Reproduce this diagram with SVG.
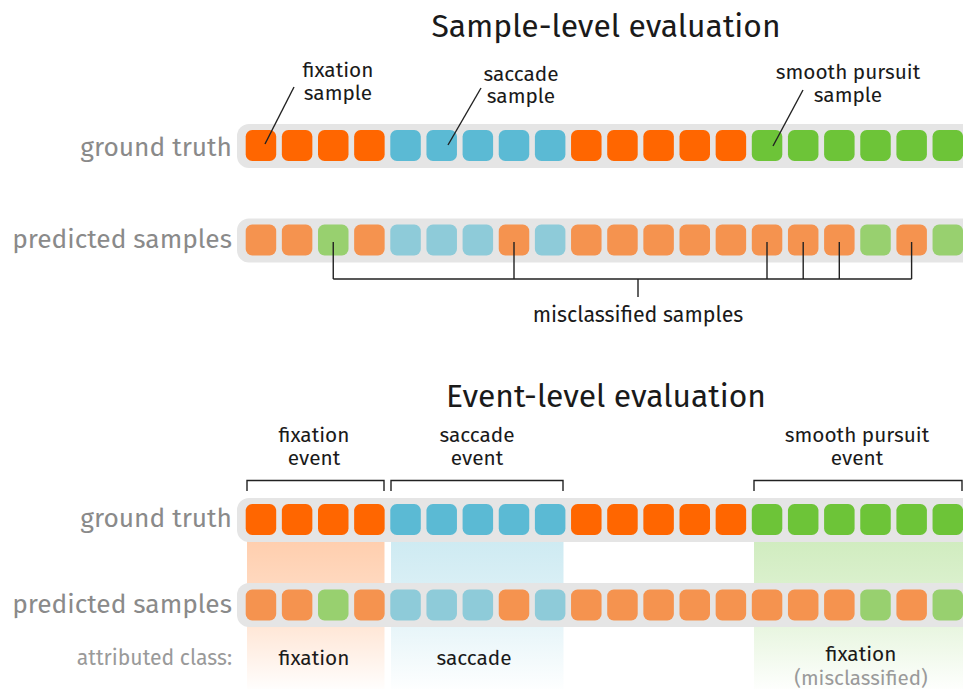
<svg xmlns="http://www.w3.org/2000/svg" width="963" height="689" viewBox="0 0 963 689">
<style>
  text { font-family: "Fira Sans", "Open Sans", "Noto Sans", sans-serif; }
  .title { font-size: 31.8px; fill: #1a1a1a; text-anchor: middle; }
  .lbl { font-size: 20.8px; fill: #1a1a1a; text-anchor: middle; }
  .row { font-size: 26.3px; fill: #8a8a8a; text-anchor: end; }
  .attr { font-size: 21.2px; fill: #9a9a9a; text-anchor: end; }
  .mis { font-size: 20.6px; fill: #9a9a9a; text-anchor: middle; }
  .bar { fill: #e5e5e5; }
  .go { fill: #ff6600; } .gb { fill: #5bbad4; } .gg { fill: #6dc438; }
  .po { fill: #f5934f; } .pb { fill: #8ecbd9; } .pg { fill: #98d06f; }
  .ln { stroke: #222; stroke-width: 1.4; fill: none; }
</style>
<defs>
  <rect id="s" width="30.5" height="31" rx="6.5"/>
  <linearGradient id="gO" gradientUnits="userSpaceOnUse" x1="0" y1="540" x2="0" y2="689">
    <stop offset="0" stop-color="#ff6600" stop-opacity="0.32"/>
    <stop offset="0.35" stop-color="#ff6600" stop-opacity="0.24"/>
    <stop offset="1" stop-color="#ff6600" stop-opacity="0.01"/>
  </linearGradient>
  <linearGradient id="gB" gradientUnits="userSpaceOnUse" x1="0" y1="540" x2="0" y2="689">
    <stop offset="0" stop-color="#5bbad4" stop-opacity="0.3"/>
    <stop offset="0.35" stop-color="#5bbad4" stop-opacity="0.22"/>
    <stop offset="1" stop-color="#5bbad4" stop-opacity="0.01"/>
  </linearGradient>
  <linearGradient id="gG" gradientUnits="userSpaceOnUse" x1="0" y1="540" x2="0" y2="689">
    <stop offset="0" stop-color="#6dc438" stop-opacity="0.32"/>
    <stop offset="0.35" stop-color="#6dc438" stop-opacity="0.24"/>
    <stop offset="1" stop-color="#6dc438" stop-opacity="0.01"/>
  </linearGradient>
</defs>

<rect width="963" height="689" fill="#ffffff"/>

<!-- Sample-level section -->
<g id="title-sample"><text class="title" x="606" y="37">Sample-level evaluation</text></g>

<g id="label-fixation-sample">
  <text class="lbl" x="338" y="77">fixation</text>
  <text class="lbl" x="338" y="99.5">sample</text>
</g>
<g id="label-saccade-sample">
  <text class="lbl" x="521" y="80.5">saccade</text>
  <text class="lbl" x="521" y="103">sample</text>
</g>
<g id="label-pursuit-sample">
  <text class="lbl" x="848" y="79">smooth pursuit</text>
  <text class="lbl" x="848" y="102">sample</text>
</g>

<g id="row-gt-1">
  <text class="row" x="232" y="156">ground truth</text>
  <rect class="bar" x="237" y="124" width="740" height="44" rx="12"/>
  <use href="#s" class="go" x="245.7" y="130"/>
  <use href="#s" class="go" x="281.85" y="130"/>
  <use href="#s" class="go" x="318" y="130"/>
  <use href="#s" class="go" x="354.15" y="130"/>
  <use href="#s" class="gb" x="390.3" y="130"/>
  <use href="#s" class="gb" x="426.45" y="130"/>
  <use href="#s" class="gb" x="462.6" y="130"/>
  <use href="#s" class="gb" x="498.75" y="130"/>
  <use href="#s" class="gb" x="534.9" y="130"/>
  <use href="#s" class="go" x="571.05" y="130"/>
  <use href="#s" class="go" x="607.2" y="130"/>
  <use href="#s" class="go" x="643.35" y="130"/>
  <use href="#s" class="go" x="679.5" y="130"/>
  <use href="#s" class="go" x="715.65" y="130"/>
  <use href="#s" class="gg" x="751.8" y="130"/>
  <use href="#s" class="gg" x="787.95" y="130"/>
  <use href="#s" class="gg" x="824.1" y="130"/>
  <use href="#s" class="gg" x="860.25" y="130"/>
  <use href="#s" class="gg" x="896.4" y="130"/>
  <use href="#s" class="gg" x="932.55" y="130"/>
</g>

<g id="row-pred-1">
  <text class="row" x="232" y="248">predicted samples</text>
  <rect class="bar" x="237" y="218.5" width="740" height="44" rx="12"/>
  <use href="#s" class="po" x="245.7" y="224.5"/>
  <use href="#s" class="po" x="281.85" y="224.5"/>
  <use href="#s" class="pg" x="318" y="224.5"/>
  <use href="#s" class="po" x="354.15" y="224.5"/>
  <use href="#s" class="pb" x="390.3" y="224.5"/>
  <use href="#s" class="pb" x="426.45" y="224.5"/>
  <use href="#s" class="pb" x="462.6" y="224.5"/>
  <use href="#s" class="po" x="498.75" y="224.5"/>
  <use href="#s" class="pb" x="534.9" y="224.5"/>
  <use href="#s" class="po" x="571.05" y="224.5"/>
  <use href="#s" class="po" x="607.2" y="224.5"/>
  <use href="#s" class="po" x="643.35" y="224.5"/>
  <use href="#s" class="po" x="679.5" y="224.5"/>
  <use href="#s" class="po" x="715.65" y="224.5"/>
  <use href="#s" class="po" x="751.8" y="224.5"/>
  <use href="#s" class="po" x="787.95" y="224.5"/>
  <use href="#s" class="po" x="824.1" y="224.5"/>
  <use href="#s" class="pg" x="860.25" y="224.5"/>
  <use href="#s" class="po" x="896.4" y="224.5"/>
  <use href="#s" class="pg" x="932.55" y="224.5"/>
</g>

<g id="label-misclassified"><text class="lbl" x="638" y="322" style="font-size:21.4px">misclassified samples</text></g>

<!-- Event-level section -->
<g id="title-event"><text class="title" x="606" y="407">Event-level evaluation</text></g>

<g id="label-fixation-event">
  <text class="lbl" x="314" y="442">fixation</text>
  <text class="lbl" x="314" y="465">event</text>
</g>
<g id="label-saccade-event">
  <text class="lbl" x="477" y="442">saccade</text>
  <text class="lbl" x="477" y="465">event</text>
</g>
<g id="label-pursuit-event">
  <text class="lbl" x="857" y="442">smooth pursuit</text>
  <text class="lbl" x="857" y="465">event</text>
</g>

<g id="bands">
  <rect x="247" y="530" width="137.5" height="159" fill="url(#gO)"/>
  <rect x="391" y="530" width="172.5" height="159" fill="url(#gB)"/>
  <rect x="754" y="530" width="209" height="159" fill="url(#gG)"/>
</g>

<g id="row-gt-2">
  <text class="row" x="232" y="527">ground truth</text>
  <rect class="bar" x="237" y="498" width="740" height="44" rx="12"/>
  <use href="#s" class="go" x="245.7" y="504"/>
  <use href="#s" class="go" x="281.85" y="504"/>
  <use href="#s" class="go" x="318" y="504"/>
  <use href="#s" class="go" x="354.15" y="504"/>
  <use href="#s" class="gb" x="390.3" y="504"/>
  <use href="#s" class="gb" x="426.45" y="504"/>
  <use href="#s" class="gb" x="462.6" y="504"/>
  <use href="#s" class="gb" x="498.75" y="504"/>
  <use href="#s" class="gb" x="534.9" y="504"/>
  <use href="#s" class="go" x="571.05" y="504"/>
  <use href="#s" class="go" x="607.2" y="504"/>
  <use href="#s" class="go" x="643.35" y="504"/>
  <use href="#s" class="go" x="679.5" y="504"/>
  <use href="#s" class="go" x="715.65" y="504"/>
  <use href="#s" class="gg" x="751.8" y="504"/>
  <use href="#s" class="gg" x="787.95" y="504"/>
  <use href="#s" class="gg" x="824.1" y="504"/>
  <use href="#s" class="gg" x="860.25" y="504"/>
  <use href="#s" class="gg" x="896.4" y="504"/>
  <use href="#s" class="gg" x="932.55" y="504"/>
</g>

<g id="row-pred-2">
  <text class="row" x="232" y="613">predicted samples</text>
  <rect class="bar" x="237" y="583" width="740" height="44" rx="12"/>
  <use href="#s" class="po" x="245.7" y="589.5"/>
  <use href="#s" class="po" x="281.85" y="589.5"/>
  <use href="#s" class="pg" x="318" y="589.5"/>
  <use href="#s" class="po" x="354.15" y="589.5"/>
  <use href="#s" class="pb" x="390.3" y="589.5"/>
  <use href="#s" class="pb" x="426.45" y="589.5"/>
  <use href="#s" class="pb" x="462.6" y="589.5"/>
  <use href="#s" class="po" x="498.75" y="589.5"/>
  <use href="#s" class="pb" x="534.9" y="589.5"/>
  <use href="#s" class="po" x="571.05" y="589.5"/>
  <use href="#s" class="po" x="607.2" y="589.5"/>
  <use href="#s" class="po" x="643.35" y="589.5"/>
  <use href="#s" class="po" x="679.5" y="589.5"/>
  <use href="#s" class="po" x="715.65" y="589.5"/>
  <use href="#s" class="po" x="751.8" y="589.5"/>
  <use href="#s" class="po" x="787.95" y="589.5"/>
  <use href="#s" class="po" x="824.1" y="589.5"/>
  <use href="#s" class="pg" x="860.25" y="589.5"/>
  <use href="#s" class="po" x="896.4" y="589.5"/>
  <use href="#s" class="pg" x="932.55" y="589.5"/>
</g>

<g id="attributed">
  <text class="attr" x="232" y="665">attributed class:</text>
  <text class="lbl" x="314" y="665">fixation</text>
  <text class="lbl" x="474" y="665">saccade</text>
  <text class="lbl" x="861" y="661">fixation</text>
  <text class="mis" x="861" y="684.5">(misclassified)</text>
</g>

<g id="connectors">
  <path class="ln" d="M294,87 L265,144"/>
  <path class="ln" d="M481,88 L448,145"/>
  <path class="ln" d="M803,90 L773,146"/>
  <path class="ln" d="M333.25,242 V279 M514,242 V279 M767,242 V279 M803.2,242 V279 M839.3,242 V279 M911.6,242 V279 M333.25,279 H911.6 M638,279 V297"/>
  <path class="ln" d="M247,491 V480.5 H384 V491"/>
  <path class="ln" d="M391,491 V480.5 H563 V491"/>
  <path class="ln" d="M754,491 V480.5 H962 V491"/>
</g>
</svg>
